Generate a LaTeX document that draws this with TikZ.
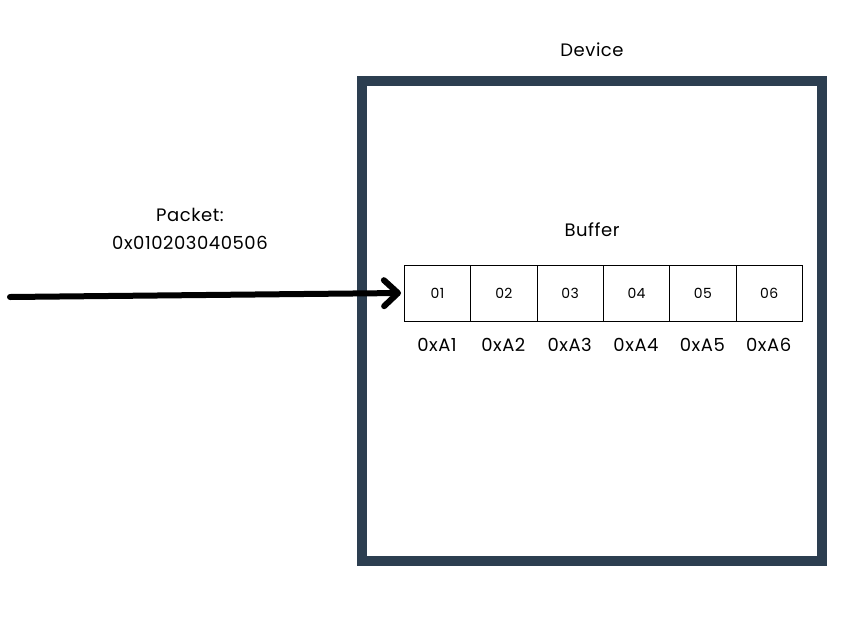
\documentclass[tikz,border=0pt]{standalone}
\usepackage{fontspec}
\setmainfont{Poppins}[LetterSpace=3]
\usetikzlibrary{arrows.meta}
\begin{document}
\begin{tikzpicture}[x=1pt,y=-1pt,
  devicebox/.style={draw=devcol,line width=10pt},
  cell/.style={draw=black,line width=0.8pt,minimum width=66.3pt,minimum height=56pt,inner sep=0pt,anchor=west,font=\fontsize{14}{16}\selectfont},
  addr/.style={font=\fontsize{18}{20}\selectfont},
  lbl/.style={font=\fontsize{18}{28}\selectfont,align=center}]
\definecolor{devcol}{HTML}{2C3E50}
\useasboundingbox (0,0) rectangle (852,630);
\node[draw=none,minimum width=460pt,minimum height=480pt,inner sep=0pt,devicebox] (dev) at (592,321) {};
\node[lbl] (devlbl) at (592,50) {Device};
\node[lbl] (buflbl) at (592,230) {Buffer};
\node[lbl] (pkt) at (190,229) {Packet:\\0x010203040506};
\foreach \i/\t in {1/01,2/02,3/03,4/04,5/05,6/06}{
  \node[cell] (c\i) at ({404+(\i-1)*66.33},293) {\t};
  \node[addr] (a\i) at ({437+(\i-1)*66.33},345) {0xA\i};
}
\coordinate (start) at (10,297);
\draw[line width=6pt,line cap=round,-{Straight Barb[length=14pt,width=26pt,line cap=round,line join=round]}] (start) -- ([xshift=-3pt]c1.west);
\end{tikzpicture}
\end{document}
